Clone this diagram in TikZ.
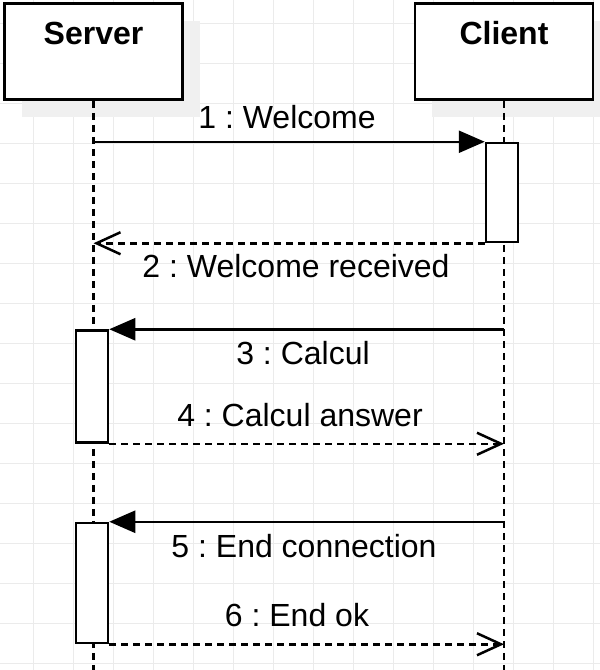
\documentclass[tikz,border=0pt]{standalone}
\usepackage{fontspec}
\setmainfont{Liberation Sans}
\frenchspacing
\usetikzlibrary{positioning, arrows.meta, calc, shadows}

\begin{document}
\begin{tikzpicture}[x=1pt, y=-1pt]

\tikzstyle{actor}=[draw=black, rectangle, line width=2.5pt, fill=white, inner sep=0, text width=178pt, text height=40.5pt, text depth=55.5pt, align=center, font=\fontsize{32}{38}\selectfont\bfseries, drop shadow={shadow xshift=17pt, shadow yshift=-17pt, fill=black!6, opacity=1}]
\tikzstyle{lifeline}=[draw=black, line width=2.5pt, dash pattern=on 7pt off 5pt]
\tikzstyle{act}=[draw=black, rectangle, line width=2.5pt, fill=white, minimum width=32pt, inner sep=0]
\tikzstyle{call}=[draw=black, line width=2.5pt, -{Triangle[length=26pt, width=22pt]}]
\tikzstyle{reply}=[draw=black, line width=2.5pt, dash pattern=on 7pt off 5pt, -{Straight Barb[length=24pt, width=22pt]}]
\tikzstyle{msg}=[anchor=base, inner sep=0, font=\fontsize{32}{38}\selectfont]
\tikzstyle{gridline}=[draw=black!8, line width=1pt]

% background and grid
\fill [white] (0, 0) rectangle (600, 670);
\useasboundingbox (0, 0) rectangle (600, 670);
\foreach \x in {33, 73, ..., 593}
	\draw [gridline] (\x, 0) -- (\x, 670);
\foreach \y in {23, 63, ..., 663}
	\draw [gridline] (0, \y) -- (600, \y);

% objects
\node [actor] (server) at (93.5, 51.5) {Server};
\node [actor] (client) at (504, 51.5) {Client};

% lifelines
\coordinate (server-end) at (server.south |- 0,670);
\coordinate (client-end) at (client.south |- 0,670);
\draw [lifeline] (server.south) -- (server-end);
\draw [lifeline] (client.south) -- (client-end);

% activations
\node [act, minimum height=99pt] (client-act) at (502, 192.5) {};
\node [act, minimum height=112pt] (server-act-1) at (92, 386.5) {};
\node [act, minimum height=120pt] (server-act-2) at (92, 583) {};

% messages
\draw [call] (server.south |- client-act.north) -- (client-act.north west);
\draw [reply] (client-act.south west) -- (server.south |- client-act.south);
\draw [call] (client.south |- server-act-1.north) -- (server-act-1.north east);
\draw [reply] (server-act-1.south east) -- (client.south |- server-act-1.south);
\draw [call] (client.south |- server-act-2.north) -- (server-act-2.north east);
\draw [reply] (server-act-2.south east) -- (client.south |- server-act-2.south);

\node [msg] (msg-1) at (287, 128) {1 : Welcome};
\node [msg] (msg-2) at (296, 277) {2 : Welcome received};
\node [msg] (msg-3) at (303, 364) {3 : Calcul};
\node [msg] (msg-4) at (300, 426) {4 : Calcul answer};
\node [msg] (msg-5) at (304, 557) {5 : End connection};
\node [msg] (msg-6) at (297, 626) {6 : End ok};

\end{tikzpicture}
\end{document}
